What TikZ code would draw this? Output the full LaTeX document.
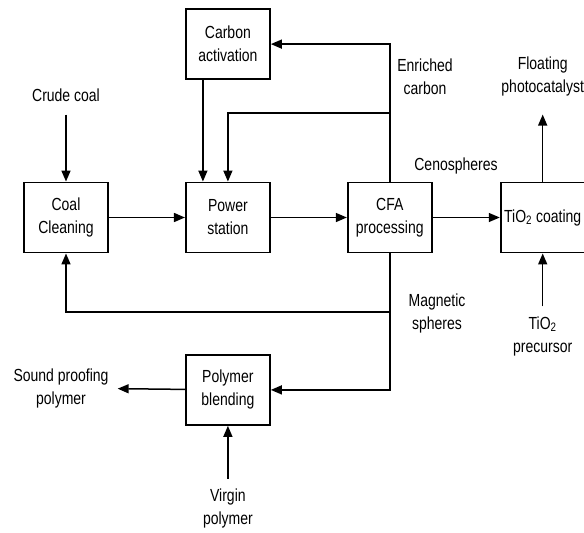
\documentclass[tikz,border=0pt]{standalone}
\usepackage{fontspec}
\setmainfont{Liberation Sans}[FakeStretch=0.8]
\usepackage{tikz}
\usetikzlibrary{shapes, arrows.meta, positioning}
\tikzstyle{block} = [rectangle, draw, line width=1.9pt, align=center,
minimum width=84pt, minimum height=70pt, inner sep=0pt]
\tikzstyle{note} = [align=center, inner sep=1pt]
\tikzstyle{line} = [draw, line width=1.5pt, -{Triangle[length=11pt,width=9pt]}]

\begin{document}
\begin{tikzpicture}[x=1pt, y=-1pt, font=\fontsize{17.5}{23}\selectfont]
	\useasboundingbox (0,0) rectangle (584,533);
	
	% Place nodes
	\node [block] at (66,217.5)			(coal)		{Coal\\Cleaning};
	\node [block, right=76pt of coal]		(power)		{Power\\station};
	\node [block, right=76pt of power]		(cfa)		{CFA\\processing};
	\node [block, right=67pt of cfa]		(tio2)		{TiO\textsubscript{2} coating};
	\node [block, above=101.5pt of power]	(carbon)	{Carbon\\activation};
	\node [block, below=100.5pt of power]	(polymer)	{Polymer\\blending};
	
	% Place labels
	\node [note, above=79pt of coal]		(crude)		{Crude coal};
	\node [note] at (425,77)				(enriched)	{Enriched\\carbon};
	\node [note, above=84pt of tio2]		(floating)	{Floating\\photocatalyst};
	\node [note] at (456,166)				(ceno)		{Cenospheres};
	\node [note] at (437,313)				(magnetic)	{Magnetic\\spheres};
	\node [note, below=62pt of tio2]		(precursor)	{TiO\textsubscript{2}\\precursor};
	\node [note] at (61,388)				(sound)		{Sound proofing\\polymer};
	\node [note, below=62pt of polymer]		(virgin)	{Virgin\\polymer};
	
	\coordinate (ecsplit) at ([yshift=68.5pt]cfa.north);
	\coordinate (mssplit) at ([yshift=-58.5pt]cfa.south);
	
	%Draw edges
	\path [line, shorten <=12pt]	(crude)		-- (coal);
	\path [line] (coal)			-- (power);
	\path [line] (power)		-- (cfa);
	\path [line] (cfa)			-- (tio2);
	\path [line] (cfa.north)	|- (carbon);
	\path [line] (ecsplit)		-| (power.north);
	\path [line] ([xshift=-25pt]carbon.south) -- ([xshift=-25pt]power.north);
	\path [line] (cfa.south)	|- (polymer);
	\path [line] (mssplit)		-| (coal.south);
	\path [line, shorten >=8pt]		(polymer)	-- (sound);
	\path [line, shorten <=9pt]		(virgin)	-- (polymer);
	\path [line, shorten <=9pt]		(precursor)	-- (tio2);
	\path [line, shorten >=17pt]	(tio2)		-- (floating);
	
\end{tikzpicture}
\end{document}
